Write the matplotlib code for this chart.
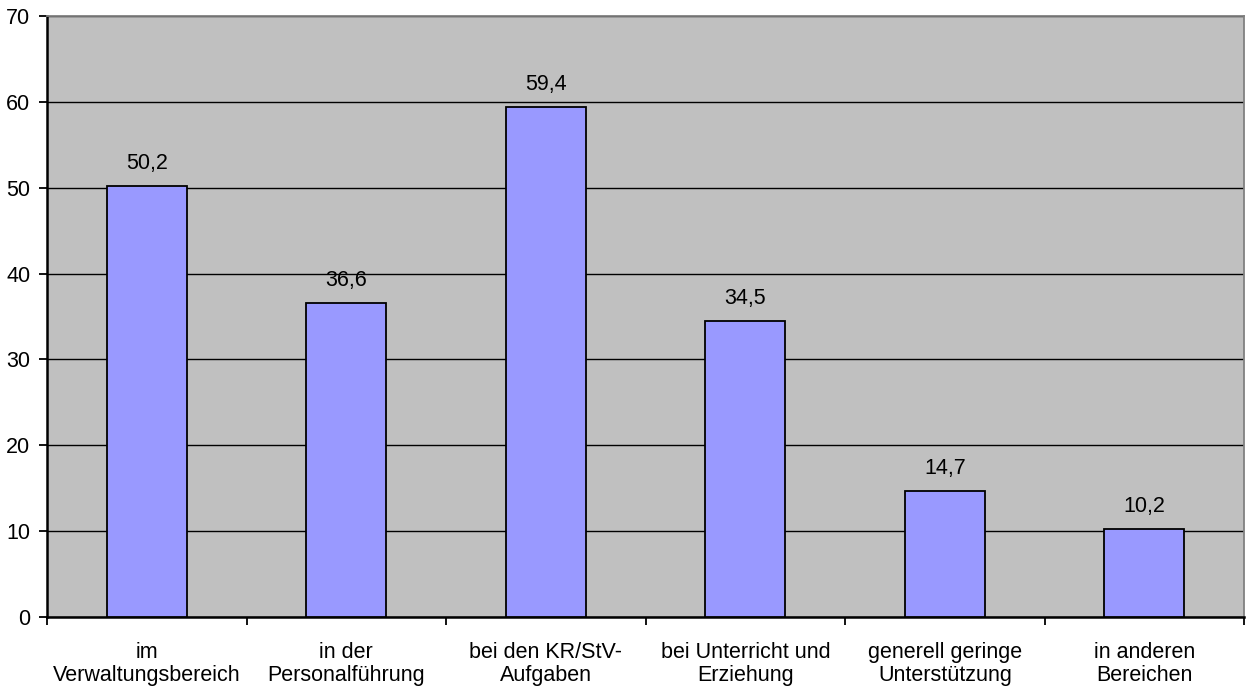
import matplotlib
matplotlib.use("Agg")
import matplotlib.pyplot as plt

categories = [
    "im\nVerwaltungsbereich",
    "in der\nPersonalführung",
    "bei den KR/StV-\nAufgaben",
    "bei Unterricht und\nErziehung",
    "generell geringe\nUnterstützung",
    "in anderen\nBereichen",
]
values = [50.2, 36.6, 59.4, 34.5, 14.7, 10.2]
value_labels = ["50,2", "36,6", "59,4", "34,5", "14,7", "10,2"]
y_ticks = [0, 10, 20, 30, 40, 50, 60, 70]

plt.rcParams["font.family"] = ["Liberation Sans", "DejaVu Sans"]
FS = 15.5

fig = plt.figure(figsize=(12.47, 6.91), dpi=100)
ax = fig.add_axes([0.0377, 0.1071, 0.9600, 0.8697])
ax.set_facecolor("#C0C0C0")

x = list(range(len(categories)))
ax.bar(x, values, width=0.4, color="#9999FF", edgecolor="black", linewidth=1.3, zorder=3)

for xi, v, lab in zip(x, values, value_labels):
    ax.text(xi, v + 1.4, lab, ha="center", va="bottom", fontsize=FS, zorder=4)

ax.set_xlim(-0.5, len(categories) - 0.5)
ax.set_ylim(0, 70)
ax.set_yticks(y_ticks)
ax.set_yticklabels([str(t) for t in y_ticks], fontsize=FS)
ax.yaxis.grid(True, color="black", linewidth=1.0, zorder=1)
ax.set_axisbelow(True)

# category labels centred under each bar, ticks at category boundaries
ax.set_xticks([i - 0.5 for i in range(len(categories) + 1)])
ax.set_xticklabels([])
ax.set_xticks(x, minor=True)
ax.set_xticklabels(categories, minor=True, fontsize=FS, linespacing=1.15)
ax.tick_params(axis="x", which="minor", length=0, pad=18)
ax.tick_params(axis="x", which="major", length=6, width=1.3, direction="out")
ax.tick_params(axis="y", length=6, width=1.3, direction="out", pad=6)

for side in ("left", "bottom"):
    ax.spines[side].set_color("black")
    ax.spines[side].set_linewidth(1.8)
for side in ("top", "right"):
    ax.spines[side].set_color("#808080")
    ax.spines[side].set_linewidth(1.3)

fig.savefig("out.png", dpi=100)
